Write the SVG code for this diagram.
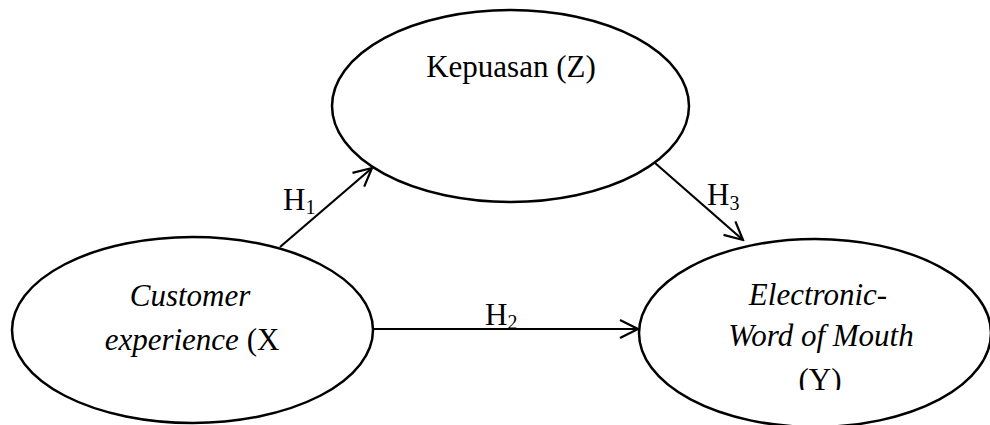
<svg xmlns="http://www.w3.org/2000/svg" width="990" height="425" viewBox="0 0 990 425">
  <style>
    .node { fill: #ffffff; stroke: #000000; stroke-width: 2.5; }
    .edge { fill: none; stroke: #000000; stroke-width: 2.2; marker-end: url(#open-arrow); }
    .lbl { font-family: "Liberation Serif", "Times New Roman", serif; font-size: 31px; fill: #000000; }
    .it { font-style: italic; }
    .sub { font-size: 20px; }
  </style>
  <defs>
    <marker id="open-arrow" markerUnits="userSpaceOnUse" markerWidth="24" markerHeight="24" viewBox="-22 -12 24 24" refX="0" refY="0" orient="auto">
      <path d="M -18 -9 L 0 0 L -18 9" fill="none" stroke="#000000" stroke-width="2.2" stroke-linejoin="miter"/>
    </marker>
    <clipPath id="clip-y">
      <rect x="630" y="230" width="360" height="160"/>
    </clipPath>
  </defs>

  <rect x="0" y="0" width="990" height="425" fill="#ffffff"/>

  <g id="node-z">
    <ellipse class="node" cx="510.5" cy="106" rx="178.5" ry="96"/>
    <text class="lbl" x="511" y="77" text-anchor="middle">Kepuasan (Z)</text>
  </g>

  <g id="node-x">
    <ellipse class="node" cx="192.5" cy="330" rx="180.5" ry="93"/>
    <text class="lbl it" x="190" y="306" text-anchor="middle">Customer</text>
    <text class="lbl" x="192" y="350" text-anchor="middle"><tspan class="it">experience </tspan>(X</text>
  </g>

  <g id="node-y">
    <ellipse class="node" cx="815" cy="333" rx="176" ry="94"/>
    <text class="lbl it" x="818" y="305" text-anchor="middle">Electronic-</text>
    <text class="lbl it" x="821" y="346" text-anchor="middle">Word of Mouth</text>
    <text class="lbl" x="820" y="389.5" text-anchor="middle" clip-path="url(#clip-y)">(Y)</text>
  </g>

  <g id="connectors">
    <line class="edge" x1="280" y1="247" x2="372" y2="168"/>
    <line class="edge" x1="373" y1="329" x2="638" y2="329"/>
    <line class="edge" x1="655" y1="163" x2="743" y2="240"/>
    <text class="lbl" x="283" y="210">H<tspan class="sub" dy="4">1</tspan></text>
    <text class="lbl" x="485" y="325">H<tspan class="sub" dy="4">2</tspan></text>
    <text class="lbl" x="707" y="205">H<tspan class="sub" dy="5">3</tspan></text>
  </g>
</svg>
